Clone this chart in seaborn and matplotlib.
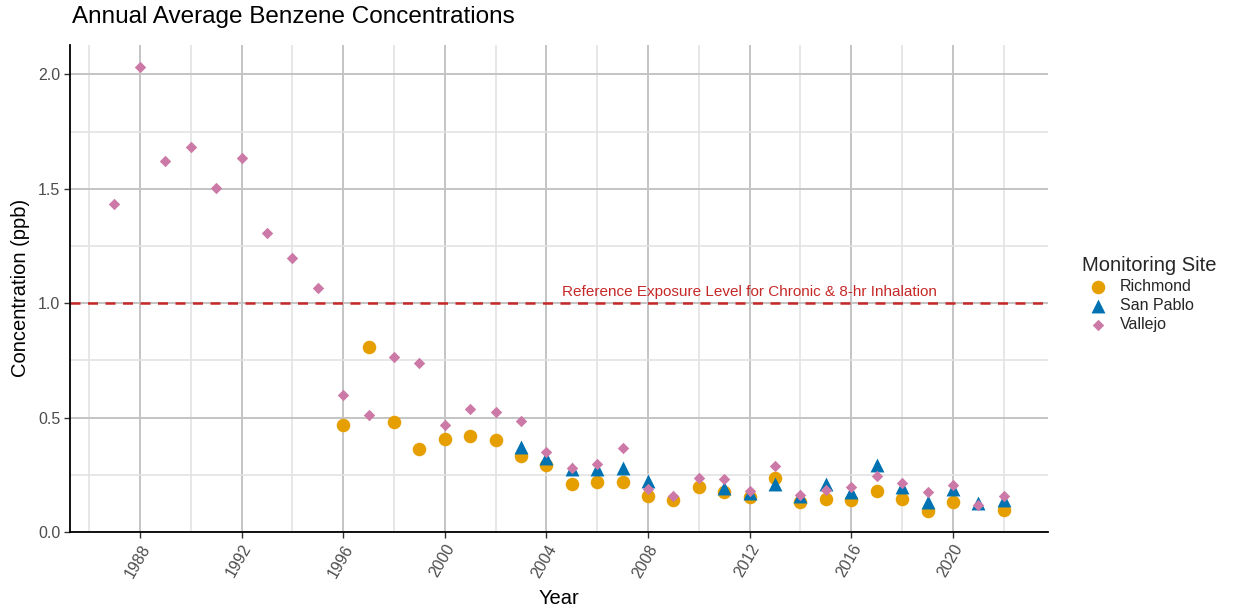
import numpy as np
import pandas as pd
import matplotlib
matplotlib.use("Agg")
import matplotlib.pyplot as plt
from matplotlib.ticker import MultipleLocator
import seaborn as sns

# ---- data ----
richmond_years = list(range(1996, 2021)) + [2022]
richmond_vals = [0.467, 0.808, 0.483, 0.363, 0.407, 0.420, 0.404, 0.334, 0.294, 0.211,
                 0.217, 0.221, 0.158, 0.141, 0.195, 0.177, 0.154, 0.236, 0.130, 0.145,
                 0.139, 0.180, 0.145, 0.092, 0.132, 0.095]

sanpablo_years = list(range(2003, 2023))
sanpablo_vals = [0.370, 0.324, 0.277, 0.275, 0.281, 0.224, None, None, 0.192, 0.173,
                 0.210, 0.157, 0.209, 0.177, 0.294, 0.195, 0.133, 0.187, 0.129, 0.139]

vallejo_years = list(range(1987, 2023))
vallejo_vals = [1.435, 2.032, 1.623, 1.681, 1.506, 1.635, 1.306, 1.196, 1.069, 0.599,
                0.512, 0.767, 0.739, 0.466, 0.539, 0.526, 0.486, 0.350, 0.282, 0.296,
                0.368, 0.190, 0.157, 0.236, 0.233, 0.181, 0.287, 0.162, 0.184, 0.199,
                0.246, 0.215, 0.176, 0.205, 0.117, 0.157]

sites = ["Richmond", "San Pablo", "Vallejo"]
ref_level = 1.0
ref_label = "Reference Exposure Level for Chronic & 8-hr Inhalation"

rows = []
for site, yrs, vals in [("Richmond", richmond_years, richmond_vals),
                        ("San Pablo", sanpablo_years, sanpablo_vals),
                        ("Vallejo", vallejo_years, vallejo_vals)]:
    for y, v in zip(yrs, vals):
        if v is not None:
            rows.append({"Year": y, "Concentration": v, "Site": site})
df = pd.DataFrame(rows)

# ---- style ----
sns.set_theme(style="white")
plt.rcParams["font.family"] = ["Liberation Sans", "DejaVu Sans"]

palette = {"Richmond": "#E69F00", "San Pablo": "#0072B2", "Vallejo": "#CC79A7"}
markers = {"Richmond": "o", "San Pablo": "^", "Vallejo": "D"}
sizes = {"Richmond": 95, "San Pablo": 100, "Vallejo": 34}

fig = plt.figure(figsize=(12.39, 6.13), dpi=100)
ax = fig.add_axes([0.0565, 0.132, 0.7895, 0.795])

# gridlines
ax.set_axisbelow(True)
ax.xaxis.set_major_locator(MultipleLocator(4))
ax.xaxis.set_minor_locator(MultipleLocator(2))
ax.yaxis.set_major_locator(MultipleLocator(0.5))
ax.yaxis.set_minor_locator(MultipleLocator(0.25))
ax.grid(which="major", color="#C4C4C4", linewidth=1.4)
ax.grid(which="minor", color="#E3E3E3", linewidth=1.2)

for site in sites:
    sub = df[df["Site"] == site]
    sns.scatterplot(data=sub, x="Year", y="Concentration", color=palette[site],
                    marker=markers[site], s=sizes[site], linewidth=0, ax=ax,
                    label=site, zorder=3)

ax.axhline(ref_level, color="#C62828", linestyle=(0, (4, 3)), linewidth=1.8, zorder=2)
ax.text(2012, ref_level + 0.018, ref_label, color="#C62828", fontsize=11,
        ha="center", va="bottom")

ax.set_xlim(1985.25, 2023.75)
ax.set_ylim(0, 2.13)
ax.set_xticks(list(range(1988, 2021, 4)))
ax.set_yticks([0.0, 0.5, 1.0, 1.5, 2.0])
ax.set_yticklabels(["0.0", "0.5", "1.0", "1.5", "2.0"])

for side in ["top", "right"]:
    ax.spines[side].set_visible(False)
for side in ["left", "bottom"]:
    ax.spines[side].set_color("black")
    ax.spines[side].set_linewidth(1.3)

ax.tick_params(axis="both", which="major", length=4, width=1, color="#333333",
               labelsize=11.5, labelcolor="#4D4D4D", bottom=True, left=True, pad=3)
ax.tick_params(axis="both", which="minor", length=0)
for lbl in ax.get_xticklabels():
    lbl.set_rotation(60)
    lbl.set_ha("right")
    lbl.set_rotation_mode("anchor")

ax.set_xlabel("Year", fontsize=14.5, color="black", labelpad=6)
ax.set_ylabel("Concentration (ppb)", fontsize=14.5, color="black", labelpad=6)

fig.text(0.058, 0.955, "Annual Average Benzene Concentrations", fontsize=17.5,
         color="black", ha="left", va="bottom")

leg = ax.legend(title="Monitoring Site", loc="center left",
                bbox_to_anchor=(0.868, 0.52), bbox_transform=fig.transFigure,
                frameon=False, fontsize=11.5, title_fontsize=14.5,
                handletextpad=0.4, labelspacing=0.25, borderaxespad=0)
leg._legend_box.align = "left"

fig.savefig("out.png", dpi=100)
